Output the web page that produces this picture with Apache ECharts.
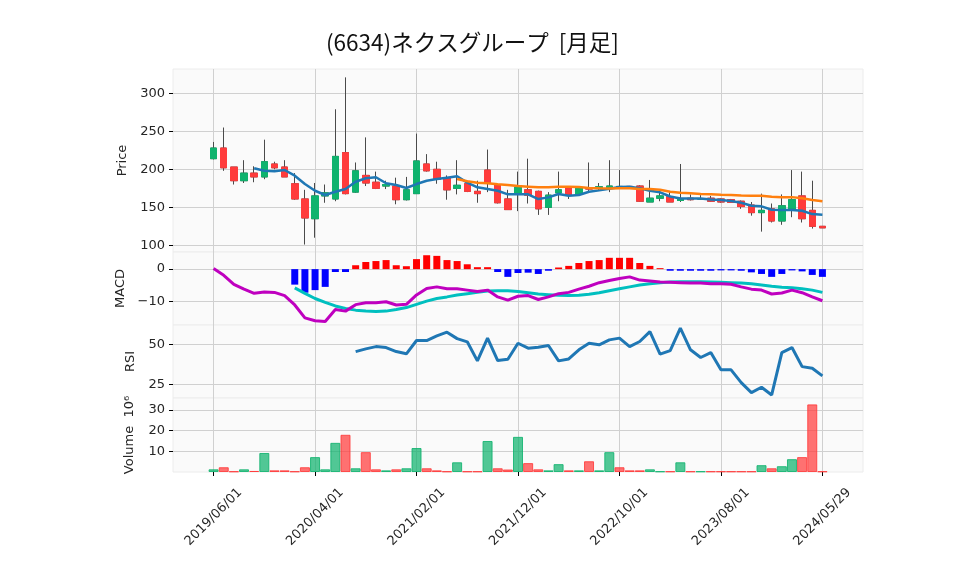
<!DOCTYPE html>
<html><head><meta charset="utf-8">
<script src="https://cdn.jsdelivr.net/npm/echarts@6/dist/echarts.min.js"></script>
<style>html,body{margin:0;padding:0;background:#fff}#c{width:958px;height:575px}</style>
</head><body><div id="c"></div>
<script>
const dates = ['2019/06/01','2019/07/01','2019/08/01','2019/09/01','2019/10/01','2019/11/01','2019/12/01','2020/01/01','2020/02/01','2020/03/01',
'2020/04/01','2020/05/01','2020/06/01','2020/07/01','2020/08/01','2020/09/01','2020/10/01','2020/11/01','2020/12/01','2021/01/01',
'2021/02/01','2021/03/01','2021/04/01','2021/05/01','2021/06/01','2021/07/01','2021/08/01','2021/09/01','2021/10/01','2021/11/01',
'2021/12/01','2022/01/01','2022/02/01','2022/03/01','2022/04/01','2022/05/01','2022/06/01','2022/07/01','2022/08/01','2022/09/01',
'2022/10/01','2022/11/01','2022/12/01','2023/01/01','2023/02/01','2023/03/01','2023/04/01','2023/05/01','2023/06/01','2023/07/01',
'2023/08/01','2023/09/01','2023/10/01','2023/11/01','2023/12/01','2024/01/01','2024/02/01','2024/03/01','2024/04/01','2024/05/01',
'2024/05/29'];
const openP  = [214,228,203,185,195,190,207,203,181,161, 135,165,161,222,170,192,183,178,178,160, 168,207,200,188,175,181,171,199,179,161,
168,173,171,150,169,175,167,176,175,176, 176,177.5,178,157,162,164,159,162,161,162, 161,160,158,153,143,148,132,148,165,146, 125];
const closeP = [228,202,185,195,190,210,202,190,161,136, 165,169,217,168,198,182,175,180,160,173, 211,198,187,173,179,171,168,183,156,147,
176,166,148,166,173,167,176,174,177,178, 177.5,177,158,162,165,157,161,160,161,158, 157,156.5,151,143,146,132,152,160,135,125, 123];
const highP  = [236,255,203,212,204,239,210,212,195,173, 182,180,279,321,209,242,197,185,189,190, 247,220,210,192,212,185,185,226,179,173,
197,214,172,170,197,176,177,209,182,212, 199,178,179,186,171,170,207,167,166,165, 162,161,159,157,168,155,167,199,197,185, 125];
const lowP   = [213,198,180,182,183,187,200,190,160,101, 110,156,158,167,169,178,174,174,154,159, 168,197,181,160,167,170,156,170,155,147,
145,155,140,140,158,161,166,170,172,170, 175,176,157,157,158,157,157,159,160,157, 156,156,148,139,118,130,127,137,130,122, 123];
const volume = [1.3,2.3,0.3,1.3,0.5,9.2,0.8,0.8,0.3,2.3, 7.2,1.3,14.1,18.0,1.8,9.6,1.3,0.8,1.3,1.8, 11.6,1.8,0.8,0.3,4.7,0.3,0.3,15.0,1.8,1.2,
17.0,4.3,1.3,0.8,3.8,0.8,0.8,5.2,0.8,9.6, 2.3,0.8,0.8,1.3,0.3,0.3,4.7,0.3,0.3,0.3, 0.3,0.3,0.3,0.3,3.3,1.8,2.8,6.2,7.2,32.7, 0.3];
const ma5 = [null,null,null,null,201.3,198.2,197.4,199.1,191.6,180.6, 171.8,166.2,170.5,174.1,183.7,188.2,189.5,181.6,179.4,175.4,
180.6,185.0,187.2,189.0,190.8,182.5,176.3,174.1,171.8,167.1, 167.1,167.1,160.9,163.1,167.5,165.3,166.2,170.5,172.3,174.3,
176.7,177.2,175.0,171.8,169.7,164.2,161.6,161.6,161.6,160.2, 159.6,158.3,156.0,152.1,151.3,146.8,146.4,146.4,145.5,141.1, 140.2];
const ma25 = [null,null,null,null,null,null,null,null,null,null, null,null,null,null,null,null,null,null,null,null, null,null,null,null,187.2,184.2,182.4,181.6,180.3,179.4,
178.0,177.2,176.3,176.3,177.2,177.2,176.7,175.4,175.0,174.8, 175.0,175.0,174.1,174.1,173.2,170.5,169.2,168.4,167.5,167.1,
166.6,166.2,165.5,165.3,165.3,163.8,163.4,163.4,161.8,159.6, 157.9];
const macdLine = [0.2,-1.9,-4.7,-6.2,-7.5,-7.1,-7.2,-8.2,-11.1,-15.1, -16.0,-16.2,-12.5,-13.0,-11.0,-10.4,-10.4,-10.1,-11.1,-10.9,
-8.0,-6.0,-5.5,-6.1,-6.1,-6.5,-6.9,-6.5,-8.6,-9.6, -8.4,-8.2,-9.4,-8.6,-7.6,-7.2,-6.2,-5.3,-4.2,-3.5,
-2.9,-2.4,-3.4,-3.7,-4.0,-4.1,-4.2,-4.3,-4.3,-4.5, -4.5,-4.7,-5.5,-6.2,-6.5,-7.7,-7.4,-6.5,-7.3,-8.6, -9.8];
const signalLine = [null,null,null,null,null,null,null,null,-5.8,-7.5, -9.1,-10.3,-11.4,-12.2,-12.7,-13.0,-13.1,-13.0,-12.5,-11.9,
-10.9,-9.9,-9.1,-8.6,-8.0,-7.6,-7.2,-6.8,-6.7,-6.7, -6.9,-7.3,-7.7,-7.9,-8.1,-8.2,-8.1,-7.8,-7.3,-6.7,
-6.1,-5.5,-4.9,-4.5,-4.2,-4.0,-3.9,-3.9,-3.9,-4.0, -4.1,-4.2,-4.3,-4.5,-4.9,-5.3,-5.6,-5.8,-6.1,-6.5, -7.2];
const macdHist = [null,null,null,null,null,null,null,null,-4.8,-7.3, -6.5,-5.5,-0.9,-0.9,1.2,2.2,2.5,2.8,1.2,0.9,
3.1,4.3,4.1,2.8,2.5,1.5,0.6,0.6,-0.9,-2.4, -1.2,-1.1,-1.5,-0.5,0.5,1.0,1.9,2.5,2.8,3.5,
3.5,3.5,1.9,1.0,0.3,-0.5,-0.5,-0.5,-0.5,-0.5, -0.4,-0.4,-0.5,-1.0,-1.5,-2.4,-1.5,-0.4,-0.7,-1.8, -2.4];
const rsi14 = [null,null,null,null,null,null,null,null,null,null, null,null,null,null,45.4,47.1,48.5,47.9,45.4,44.0,
52.3,52.3,55.2,57.5,53.5,51.5,39.6,53.8,39.8,40.6, 50.6,47.5,48.1,49.2,39.6,40.8,46.5,50.6,49.6,52.7,
53.8,48.5,51.7,57.9,43.8,46.0,60.0,46.5,41.7,44.8, 34.0,34.0,26.0,19.8,23.1,18.3,44.8,47.9,36.0,35.0, 30.2];
const priceTicks = [100,150,200,250,300];
const macdTicks = [-10,0];
const rsiTicks = [25,50];
const volTicks = [10,20,30];
const titleText = '(6634)ネクスグループ  [月足]';

const PAD = 4;
const N = dates.length;
const cats = [];
for (let i = 0; i < PAD; i++) cats.push('__l' + i);
dates.forEach(d => cats.push(d));
for (let i = 0; i < PAD; i++) cats.push('__r' + i);
const padL = Array(PAD).fill('-'), padR = Array(PAD).fill('-');
const wrap = arr => padL.concat(arr.map(v => (v === null ? '-' : v)), padR);

const UP = '#0fb36e', DOWN = '#ff3b3b', WICK = '#4a4a4a';
const candleFull = wrap(dates.map((d, i) => [openP[i], closeP[i], lowP[i], highP[i]]));
const candleBody = wrap(dates.map((d, i) => [openP[i], closeP[i], Math.min(openP[i], closeP[i]), Math.max(openP[i], closeP[i])]));
const histData = wrap(macdHist.map(v => v === null ? null : {value: v, itemStyle: {color: v >= 0 ? '#ff0000' : '#0000ff'}}));
const volData = wrap(volume.map((v, i) => {
  const up = i === 0 ? closeP[0] >= openP[0] : closeP[i] >= closeP[i - 1];
  return {value: v, itemStyle: up
    ? {color: 'rgba(15,179,110,0.72)', borderColor: 'rgba(15,179,110,0.85)'}
    : {color: 'rgba(255,59,59,0.72)', borderColor: 'rgba(255,59,59,0.85)'}};
}));

const isTick = (idx) => idx >= PAD && idx < PAD + N && ((idx - PAD) % 10 === 0);
const FONT = 'DejaVu Sans';
const GRID_L = 173, GRID_W = 690;
const grids = [
  {left: GRID_L, width: GRID_W, top: 69, height: 183},
  {left: GRID_L, width: GRID_W, top: 252, height: 73},
  {left: GRID_L, width: GRID_W, top: 325, height: 73},
  {left: GRID_L, width: GRID_W, top: 398, height: 74}
].map(g => Object.assign(g, {show: true, backgroundColor: '#fafafa', borderColor: '#ececec', borderWidth: 1}));

const xAxes = [0, 1, 2, 3].map(gi => ({
  type: 'category', gridIndex: gi, data: cats, boundaryGap: false,
  axisLine: {show: false},
  axisTick: {show: gi === 3, interval: (i) => isTick(i), length: 4, lineStyle: {color: '#000'}},
  axisLabel: {show: gi === 3, interval: (i) => isTick(i), rotate: 45, align: 'center', verticalAlign: 'middle',
    margin: 45, fontFamily: FONT, fontSize: 13, color: '#262626'},
  splitLine: {show: true, interval: (i) => isTick(i), lineStyle: {color: '#d0d0d0', width: 1}}
}));

const minus = v => String(v).replace('-', '\u2212');
function yAx(gi, min, max, ticks, name, gap) {
  return {
    type: 'value', gridIndex: gi, min: min, max: max, position: 'left',
    axisLine: {show: false},
    axisTick: {show: true, customValues: ticks, length: 4, lineStyle: {color: '#000'}},
    axisLabel: {customValues: ticks, fontFamily: FONT, fontSize: 13, color: '#262626', formatter: minus},
    splitLine: {show: true, lineStyle: {color: '#d0d0d0', width: 1}},
    name: name, nameLocation: 'middle', nameGap: gap,
    nameTextStyle: {fontFamily: FONT, fontSize: 13, color: '#262626'}
  };
}
const yAxes = [
  yAx(0, 91.2, 332, priceTicks, 'Price', 44),
  yAx(1, -17.3, 5.3, macdTicks, 'MACD', 44),
  yAx(2, 16.4, 62, rsiTicks, 'RSI', 36),
  yAx(3, 0, 35.8, volTicks, 'Volume  10\u2076', 37)
];

const lineS = (name, data, color, xi, w) => ({
  name: name, type: 'line', data: wrap(data), xAxisIndex: xi, yAxisIndex: xi,
  symbol: 'none', showSymbol: false, connectNulls: false,
  lineStyle: {color: color, width: w}, itemStyle: {color: color}, z: 4
});

const option = {
  animation: false,
  backgroundColor: '#ffffff',
  title: {text: titleText, left: 321, top: 26,
    textStyle: {fontFamily: 'Noto Sans CJK JP', fontSize: 22.5, fontWeight: 'normal', color: '#111'}},
  grid: grids, xAxis: xAxes, yAxis: yAxes,
  series: [
    {name: 'wick', type: 'candlestick', data: candleFull, xAxisIndex: 0, yAxisIndex: 0, barWidth: 7,
      itemStyle: {color: WICK, color0: WICK, borderColor: WICK, borderColor0: WICK, borderWidth: 1}, z: 2},
    {name: 'body', type: 'candlestick', data: candleBody, xAxisIndex: 0, yAxisIndex: 0, barWidth: 7,
      itemStyle: {color: UP, color0: DOWN, borderColor: UP, borderColor0: DOWN, borderWidth: 1}, z: 3},
    lineS('MA5', ma5, '#1f77b4', 0, 2.5),
    lineS('MA25', ma25, '#ff7f0e', 0, 2.5),
    {name: 'hist', type: 'bar', data: histData, xAxisIndex: 1, yAxisIndex: 1, barWidth: 7, z: 2},
    lineS('signal', signalLine, '#00bfbf', 1, 3),
    lineS('MACD', macdLine, '#bf00bf', 1, 3),
    lineS('RSI', rsi14, '#1f77b4', 2, 3),
    {name: 'Volume', type: 'bar', data: volData, xAxisIndex: 3, yAxisIndex: 3, barWidth: 10,
      itemStyle: {borderWidth: 1}, z: 2}
  ]
};
const chart = echarts.init(document.getElementById('c'), null, {renderer: 'canvas'});
chart.setOption(option);
</script></body></html>
